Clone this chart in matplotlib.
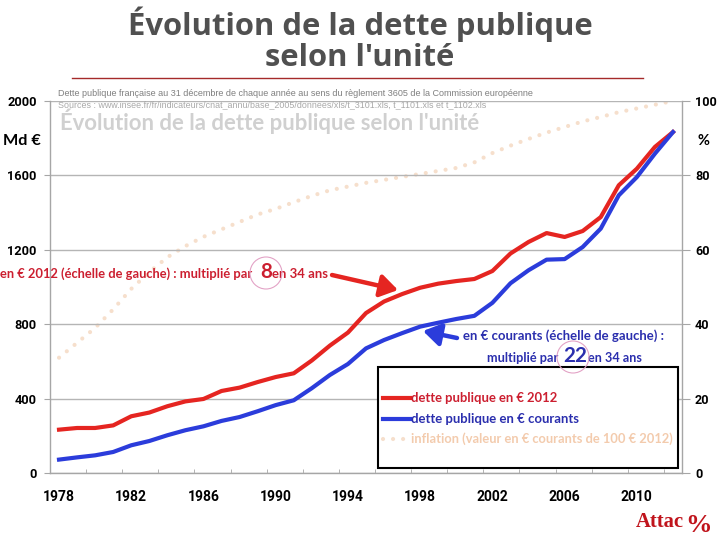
import matplotlib
matplotlib.use('Agg')
import matplotlib.pyplot as plt
from matplotlib import font_manager as fm
from matplotlib.patches import Rectangle, Ellipse, FancyArrowPatch
from matplotlib.lines import Line2D

# ---------------- data ----------------
years = list(range(1978, 2013))
debt_eur2012 = [233, 242, 242, 256, 305, 325, 359, 385, 398, 441,
                459, 489, 516, 536, 605, 685, 755, 860, 922, 962,
                996, 1018, 1032, 1043, 1086, 1180, 1242, 1290, 1269, 1301,
                1376, 1547, 1636, 1753, 1833]
debt_current = [72, 84, 95, 113, 149, 172, 203, 230, 251, 280,
                301, 332, 365, 391, 456, 527, 586, 670, 715, 752,
                787, 808, 828, 845, 915, 1020, 1090, 1147, 1150, 1215,
                1314, 1493, 1591, 1717, 1833]
inflation = [31, 35, 39, 44, 49.5, 54, 58, 61, 63.5, 65.5,
             67.5, 69.5, 71, 72.8, 74.5, 76, 77, 78, 78.8, 79.6,
             80.4, 81.2, 82, 83.5, 86, 88, 89.8, 91.5, 93, 94.5,
             95.7, 97, 98, 99, 100]
xtick_years = [1978, 1982, 1986, 1990, 1994, 1998, 2002, 2006, 2010]
left_ticks = [0, 400, 800, 1200, 1600, 2000]
right_ticks = [0, 20, 40, 60, 80, 100]

W, H = 720, 540
fig = plt.figure(figsize=(7.2, 5.4), dpi=100)
renderer = fig.canvas.get_renderer()


def fx(x):
    return x / W


def fy(y):
    return 1 - y / H


def has_font(name):
    try:
        fm.findfont(fm.FontProperties(family=name), fallback_to_default=False)
        return True
    except Exception:
        return False


NARROW = 'Liberation Sans Narrow' if has_font('Liberation Sans Narrow') else 'Roboto'
CAL = 'Lato' if has_font('Lato') else 'DejaVu Sans'
TITLE = 'Open Sans' if has_font('Open Sans') else 'DejaVu Sans'
SERIF = 'Liberation Serif' if has_font('Liberation Serif') else 'DejaVu Serif'


def fit(t, target):
    w = t.get_window_extent(renderer).width
    if w > 0:
        t.set_fontsize(t.get_fontsize() * target / w)
    return t


def ftext(x, y, s, width=None, **kw):
    t = fig.text(fx(x), fy(y), s, **kw)
    if width:
        fit(t, width)
    return t


def size_for(s, width, **kw):
    t = fig.text(0, 0, s, fontsize=10, **kw)
    w = t.get_window_extent(renderer).width
    t.remove()
    return 10 * width / w


RED_LINE = '#e52521'
BLUE_LINE = '#2b3cdb'
RED_TXT = '#cc1f30'
BLUE_TXT = '#2b2fae'
PEACH = '#f6dfcc'
GRID = '#b5b5b5'
SPINE = '#a6a6a6'

# ---------------- axes ----------------
ax = fig.add_axes([fx(50), fy(473), (682 - 50) / W, (473 - 101) / H])
ax2 = ax.twinx()
ax.set_zorder(ax2.get_zorder() + 1)
ax.patch.set_visible(False)

idx = list(range(len(years)))
ax2.plot(idx, inflation, color=PEACH, lw=3, linestyle=(0, (0.01, 2.4)),
         dash_capstyle='round', zorder=2)
ax.plot(idx, debt_eur2012, color=RED_LINE, lw=3, zorder=3, solid_joinstyle='round')
ax.plot(idx, debt_current, color=BLUE_LINE, lw=3, zorder=4, solid_joinstyle='round')

ax.set_xlim(-0.5, len(years) - 0.5)
ax.set_ylim(0, 2000)
ax2.set_ylim(0, 100)

ysz = size_for('2000', 29, family=NARROW, weight='bold')
rsz = size_for('100', 21.5, family=NARROW, weight='bold')
xsz = size_for('1978', 32, family=NARROW, weight='bold')

ax.set_yticks(left_ticks, labels=[str(v) for v in left_ticks], fontsize=ysz,
              fontweight='bold', fontfamily=NARROW)
ax2.set_yticks(right_ticks, labels=[str(v) for v in right_ticks], fontsize=rsz,
               fontweight='bold', fontfamily=NARROW)
ax.set_xticks([years.index(y) for y in xtick_years],
              labels=[str(y) for y in xtick_years], fontsize=xsz,
              fontweight='bold', fontfamily=NARROW)
ax.set_xticks([i - 0.5 for i in idx[::2]], minor=True)

ax.yaxis.grid(True, color=GRID, lw=1)
ax.tick_params(axis='y', direction='out', length=4, color=SPINE, pad=5.5)
ax2.tick_params(axis='y', direction='out', length=5.8, color=SPINE, pad=3.6)
ax.tick_params(axis='x', which='major', length=0, pad=12)
ax.tick_params(axis='x', which='minor', direction='in', length=3, color=SPINE)

for a in (ax, ax2):
    a.spines['top'].set_visible(False)
ax.spines['right'].set_visible(False)
ax2.spines['left'].set_visible(False)
ax2.spines['bottom'].set_visible(False)
for s in (ax.spines['left'], ax.spines['bottom'], ax2.spines['right']):
    s.set_color(SPINE)
    s.set_linewidth(1)

# ---------------- slide title ----------------
t1 = ftext(360, 24, 'Évolution de la dette publique', width=468, ha='center',
           va='center', fontweight='bold', color='#505050', family=TITLE)
ftext(360, 58, "selon l'unité", ha='center', va='center', fontweight='bold',
      color='#505050', family=TITLE, fontsize=t1.get_fontsize())
fig.add_artist(Line2D([fx(72), fx(643)], [fy(78), fy(78)], color='#a52a2a', lw=1))

# ---------------- in-chart header ----------------
ftext(58, 93.5, 'Dette publique française au 31 décembre de chaque année au sens du '
      'règlement 3605 de la Commission européenne', width=474, va='center',
      color='#7f7f7f', family='Liberation Sans')
ftext(58, 104.5, 'Sources : www.insee.fr/fr/indicateurs/cnat_annu/base_2005/donnees/'
      'xls/t_3101.xls, t_1101.xls et t_1102.xls', width=427, va='center',
      color='#a8a8a8', family='Liberation Sans')
ftext(60, 121.5, "Évolution de la dette publique selon l'unité", width=422,
      va='center', color='#d0d0d0', family=CAL, fontweight='bold')

# axis units
ftext(22, 141, 'Md €', width=38, ha='center', va='center', fontweight='bold',
      family=CAL, color='black')
ftext(704, 141, '%', width=12, ha='center', va='center', fontweight='bold',
      family=CAL, color='black')

# ---------------- annotations ----------------
tr = ftext(0, 278, 'en € 2012 (échelle de gauche) : multiplié par', width=252,
           va='baseline', fontweight='bold', color=RED_TXT, family=CAL)
small = tr.get_fontsize()
ftext(260, 278.5, '8', va='baseline', fontweight='bold', color=RED_TXT,
      family=CAL, fontsize=small * 1.6)
ftext(272.5, 278, 'en 34 ans', width=56, va='baseline', fontweight='bold',
      color=RED_TXT, family=CAL)
fig.add_artist(Ellipse((fx(266), fy(273)), 32 / W, 32 / H, transform=fig.transFigure,
                       fill=False, edgecolor='#e3a3c6', lw=0.8, zorder=6))
fig.add_artist(FancyArrowPatch((fx(332), fy(275)), (fx(398), fy(290)),
                               transform=fig.transFigure,
                               arrowstyle='-|>,head_length=0.7,head_width=0.45',
                               mutation_scale=15, lw=3.2, color=RED_LINE,
                               shrinkA=0, shrinkB=0, zorder=6))

ftext(463, 339.5, 'en € courants (échelle de gauche) :', width=202,
      va='baseline', fontweight='bold', color=BLUE_TXT, family=CAL)
ftext(487, 361.5, 'multiplié par', width=71.5, va='baseline', fontweight='bold',
      color=BLUE_TXT, family=CAL)
ftext(563, 362, '22', va='baseline', fontweight='bold', color=BLUE_TXT,
      family=CAL, fontsize=small * 1.6)
ftext(588, 361.5, 'en 34 ans', width=54, va='baseline', fontweight='bold',
      color=BLUE_TXT, family=CAL)
fig.add_artist(Ellipse((fx(573), fy(357)), 32 / W, 32 / H, transform=fig.transFigure,
                       fill=False, edgecolor='#e3a3c6', lw=0.8, zorder=6))
fig.add_artist(FancyArrowPatch((fx(457), fy(338)), (fx(423), fy(331)),
                               transform=fig.transFigure,
                               arrowstyle='-|>,head_length=0.7,head_width=0.45',
                               mutation_scale=15, lw=3.2, color=BLUE_LINE,
                               shrinkA=0, shrinkB=0, zorder=6))

# ---------------- legend box ----------------
fig.add_artist(Rectangle((fx(378), fy(468)), (678 - 378) / W, (468 - 367) / H,
                         transform=fig.transFigure, facecolor='white',
                         edgecolor='black', lw=1.5, zorder=5))
legend_items = [
    ('dette publique en € 2012', RED_LINE, RED_TXT, '-', 398, 146),
    ('dette publique en € courants', BLUE_LINE, BLUE_TXT, '-', 419, 169),
    ('inflation (valeur en € courants de 100 € 2012)', PEACH, '#f3cbad',
     (0, (0.01, 2.4)), 439, 263),
]
for label, lc, tc, ls, yy, ww in legend_items:
    fig.add_artist(Line2D([fx(383), fx(410)], [fy(yy), fy(yy)], color=lc, lw=3,
                          linestyle=ls, dash_capstyle='round', zorder=6))
    t = ftext(411, yy, label, width=ww, va='center', fontweight='bold',
              color=tc, family=CAL)
    t.set_zorder(7)

# ---------------- logo ----------------
ftext(636, 522, 'Attac', width=48, va='center', fontweight='bold',
      color='#c0141c', family=SERIF)
ftext(698, 526, '%', ha='center', va='center', fontweight='bold',
      color='#c0141c', family=SERIF, fontsize=19)

fig.savefig('out.png', dpi=100, facecolor='white')
